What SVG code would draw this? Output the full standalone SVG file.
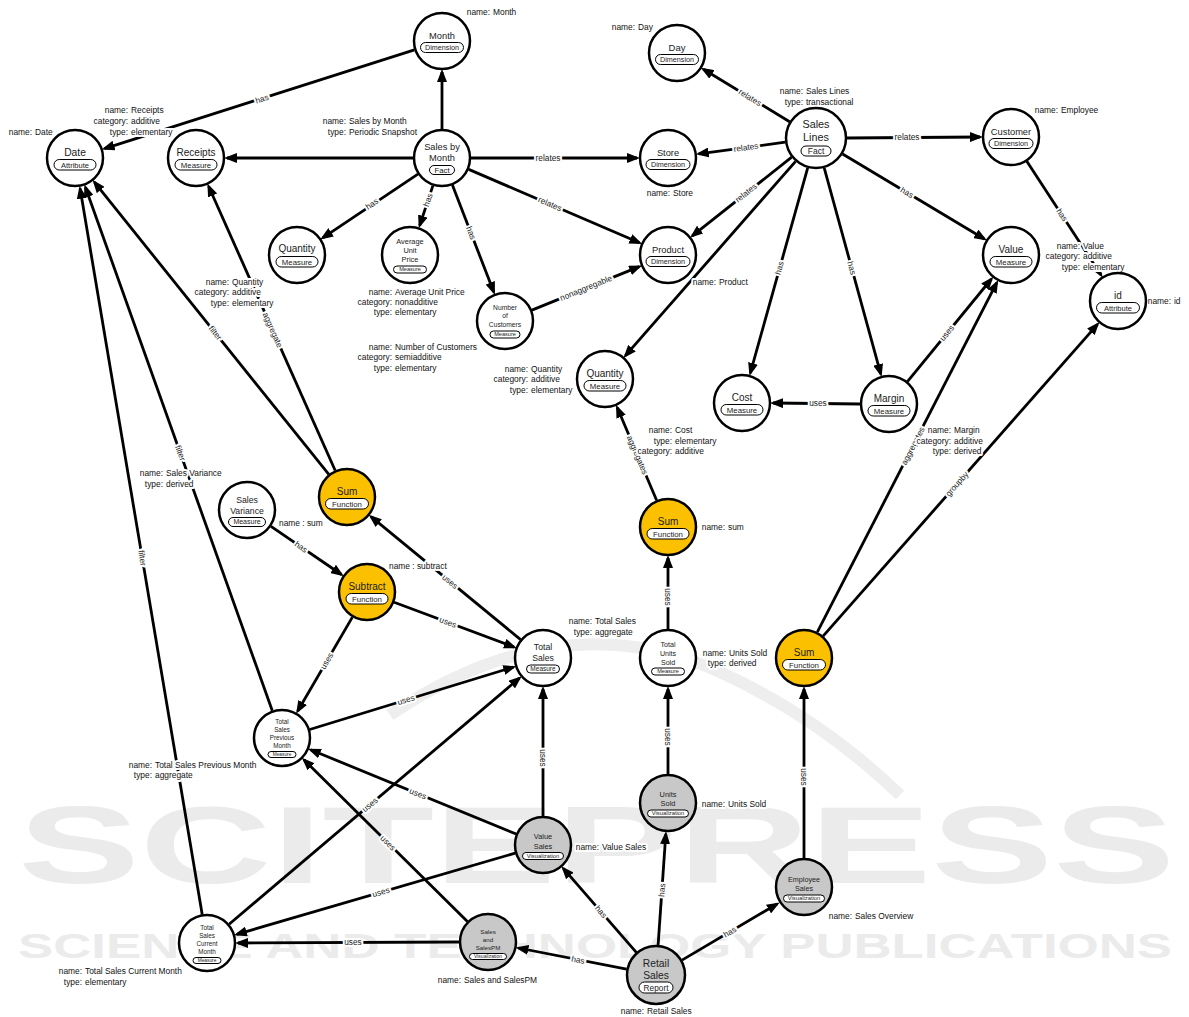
<svg xmlns="http://www.w3.org/2000/svg" width="1189" height="1017" viewBox="0 0 1189 1017">
<defs>
<style>
.c{stroke:#000;stroke-width:2.5;fill:#fff}
.fn{fill:#fbc100}
.vz{fill:#c8c8c8}
.t{font-family:"Liberation Sans",Arial,sans-serif;text-anchor:middle;fill:#222}
.pill{fill:#fff;stroke:#000;stroke-width:1}
.e{stroke:#000;stroke-width:2.8;fill:none}
.ea{marker-end:url(#ah)}
.el{font-family:"Liberation Sans",Arial,sans-serif;font-size:8.3px;text-anchor:middle;fill:#222;paint-order:stroke;stroke:#fff;stroke-width:4px;stroke-linejoin:round}
.pk,.pv{font-family:"Liberation Sans",Arial,sans-serif;font-size:8.4px;fill:#111;paint-order:stroke;stroke:#fff;stroke-width:4px;stroke-linejoin:round}
.pk{text-anchor:end}
.pv{text-anchor:start}
.wm{font-family:"Liberation Sans",Arial,sans-serif;font-weight:bold;fill:#ebebeb}
</style>
<marker id="ah" viewBox="0 0 13 10" refX="10" refY="5" markerWidth="13" markerHeight="10" markerUnits="userSpaceOnUse" orient="auto"><path d="M0,0 L13,5 L0,10 z" fill="#000"/></marker>
</defs>
<rect width="1189" height="1017" fill="#fff"/>
<g id="watermark">
<path d="M390,715 Q560,600 720,672 Q820,718 900,795" fill="none" stroke="#eeeeee" stroke-width="12"/>
<text class="wm" x="18" y="883" font-size="109" textLength="1157" lengthAdjust="spacingAndGlyphs">SCITEPRESS</text>
<text class="wm" x="18" y="958" font-size="35" textLength="1154" lengthAdjust="spacingAndGlyphs">SCIENCE AND TECHNOLOGY PUBLICATIONS</text>
</g>
<g id="connectors">
<path class="e ea" d="M414.4,49.8 L104.5,148.6"/>
<path class="e ea" d="M442,129 L442,72"/>
<path class="e ea" d="M413,158 L227,158"/>
<path class="e ea" d="M471,158 L637,158"/>
<path class="e ea" d="M468.7,169.4 L639.5,242.8"/>
<path class="e ea" d="M417.9,174.1 L322.8,237.8"/>
<path class="e ea" d="M432.9,185.6 L419.7,225.5"/>
<path class="e ea" d="M452.4,185.1 L493.8,292.1"/>
<path class="e ea" d="M531.9,310.1 L639.3,266.6"/>
<path class="e ea" d="M789.6,121.8 L703.4,69.2"/>
<path class="e ea" d="M785.3,142.2 L698.7,153.8"/>
<path class="e ea" d="M791.7,157.2 L692.3,235.8"/>
<path class="e ea" d="M847,138 L980,137"/>
<path class="e ea" d="M842.6,154 L984.4,239"/>
<path class="e ea" d="M795.6,161.3 L625.4,355.7"/>
<path class="e ea" d="M807.7,167.9 L750.3,373.1"/>
<path class="e ea" d="M824.2,167.9 L880.8,374.1"/>
<path class="e ea" d="M1026.8,161.3 L1101,275"/>
<path class="e ea" d="M860,404 L773,403"/>
<path class="e ea" d="M907.4,381.6 L991.4,279"/>
<path class="e ea" d="M817.3,632.2 L996.8,282.6"/>
<path class="e ea" d="M823.1,636.2 L1097.5,324.3"/>
<path class="e ea" d="M656.6,500.3 L617.2,407.5"/>
<path class="e ea" d="M668,629 L668,558"/>
<path class="e ea" d="M335.2,470.5 L208.6,186.3"/>
<path class="e ea" d="M328.8,474.4 L94.4,182.2"/>
<path class="e ea" d="M520.6,639.6 L371,516.7"/>
<path class="e ea" d="M394.1,602.2 L514,647.1"/>
<path class="e ea" d="M271,526.4 L341.4,574.5"/>
<path class="e ea" d="M352.4,617.1 L297.6,711.2"/>
<path class="e ea" d="M272.3,710.7 L85.4,187.2"/>
<path class="e ea" d="M202.2,914.4 L80.1,188.6"/>
<path class="e ea" d="M309.7,729.5 L513.4,667.1"/>
<path class="e ea" d="M543,816 L543,689"/>
<path class="e ea" d="M516.2,834 L310.7,749.8"/>
<path class="e ea" d="M515.2,853.1 L236.8,934.3"/>
<path class="e ea" d="M229.1,924.2 L519.4,678.1"/>
<path class="e ea" d="M467.4,921.6 L304,759.8"/>
<path class="e ea" d="M459,942 L238,943"/>
<path class="e ea" d="M668,774 L668,689"/>
<path class="e ea" d="M804,858 L804,689"/>
<path class="e ea" d="M626.6,969.2 L518.4,948"/>
<path class="e ea" d="M636.3,952.4 L563.3,868.4"/>
<path class="e ea" d="M658.1,945.1 L665.8,834.1"/>
<path class="e ea" d="M682,960.1 L777.1,904"/>
<g id="edge-labels">
<text class="el" x="262" y="99" dy="0.33em" transform="rotate(-17.7 262 99)">has</text>
<text class="el" x="548" y="158" dy="0.33em">relates</text>
<text class="el" x="550" y="204" dy="0.33em" transform="rotate(23.2 550 204)">relates</text>
<text class="el" x="372" y="204" dy="0.33em" transform="rotate(-33.8 372 204)">has</text>
<text class="el" x="428" y="200" dy="0.33em" transform="rotate(-71.7 428 200)">has</text>
<text class="el" x="471" y="233" dy="0.33em" transform="rotate(68.9 471 233)">has</text>
<text class="el" x="586" y="288" dy="0.33em" transform="rotate(-22 586 288)">nonaggregable</text>
<text class="el" x="750" y="97.5" dy="0.33em" transform="rotate(31.4 750 97.5)">relates</text>
<text class="el" x="746" y="147.5" dy="0.33em" transform="rotate(-7.7 746 147.5)">relates</text>
<text class="el" x="746" y="193" dy="0.33em" transform="rotate(-38.3 746 193)">relates</text>
<text class="el" x="907" y="137.5" dy="0.33em">relates</text>
<text class="el" x="907" y="192.6" dy="0.33em" transform="rotate(31 907 192.6)">has</text>
<text class="el" x="779.5" y="268" dy="0.33em" transform="rotate(-74.4 779.5 268)">has</text>
<text class="el" x="851.7" y="268" dy="0.33em" transform="rotate(74.7 851.7 268)">has</text>
<text class="el" x="1062" y="215" dy="0.33em" transform="rotate(56.9 1062 215)">has</text>
<text class="el" x="818" y="403.5" dy="0.33em">uses</text>
<text class="el" x="947" y="333" dy="0.33em" transform="rotate(-50.7 947 333)">uses</text>
<text class="el" x="913" y="446" dy="0.33em" transform="rotate(-62.8 913 446)">aggregates</text>
<text class="el" x="957" y="484" dy="0.33em" transform="rotate(-48.7 957 484)">groupby</text>
<text class="el" x="637.4" y="455" dy="0.33em" transform="rotate(67 637.4 455)">aggregates</text>
<text class="el" x="668" y="597" dy="0.33em" transform="rotate(90 668 597)">uses</text>
<text class="el" x="272.6" y="330" dy="0.33em" transform="rotate(66 272.6 330)">aggregate</text>
<text class="el" x="215.3" y="333" dy="0.33em" transform="rotate(51.3 215.3 333)">filter</text>
<text class="el" x="450" y="581.6" dy="0.33em" transform="rotate(39.4 450 581.6)">uses</text>
<text class="el" x="448" y="622.4" dy="0.33em" transform="rotate(20.6 448 622.4)">uses</text>
<text class="el" x="301" y="547" dy="0.33em" transform="rotate(34.3 301 547)">has</text>
<text class="el" x="326.8" y="661" dy="0.33em" transform="rotate(-59.8 326.8 661)">uses</text>
<text class="el" x="180.3" y="453" dy="0.33em" transform="rotate(70.4 180.3 453)">filter</text>
<text class="el" x="142.2" y="558" dy="0.33em" transform="rotate(80.5 142.2 558)">filter</text>
<text class="el" x="406" y="700" dy="0.33em" transform="rotate(-17 406 700)">uses</text>
<text class="el" x="543" y="758" dy="0.33em" transform="rotate(90 543 758)">uses</text>
<text class="el" x="418" y="793.8" dy="0.33em" transform="rotate(22.3 418 793.8)">uses</text>
<text class="el" x="381" y="892.2" dy="0.33em" transform="rotate(-16.3 381 892.2)">uses</text>
<text class="el" x="370" y="804.8" dy="0.33em" transform="rotate(-40.3 370 804.8)">uses</text>
<text class="el" x="388" y="843" dy="0.33em" transform="rotate(44.7 388 843)">uses</text>
<text class="el" x="353" y="942.5" dy="0.33em">uses</text>
<text class="el" x="668" y="737" dy="0.33em" transform="rotate(90 668 737)">uses</text>
<text class="el" x="804" y="777" dy="0.33em" transform="rotate(90 804 777)">uses</text>
<text class="el" x="578" y="960" dy="0.33em" transform="rotate(11.1 578 960)">has</text>
<text class="el" x="601" y="911.8" dy="0.33em" transform="rotate(49 601 911.8)">has</text>
<text class="el" x="662" y="890" dy="0.33em" transform="rotate(-86 662 890)">has</text>
<text class="el" x="730" y="932" dy="0.33em" transform="rotate(-30.5 730 932)">has</text>
</g>
</g>
<g id="properties">
<text class="pk" x="32" y="135">name:</text><text class="pv" x="35" y="135">Date</text>
<text class="pk" x="128" y="113">name:</text><text class="pv" x="131" y="113">Receipts</text>
<text class="pk" x="128" y="124">category:</text><text class="pv" x="131" y="124">additive</text>
<text class="pk" x="128" y="135">type:</text><text class="pv" x="131" y="135">elementary</text>
<text class="pk" x="346" y="124">name:</text><text class="pv" x="349" y="124">Sales by Month</text>
<text class="pk" x="346" y="135">type:</text><text class="pv" x="349" y="135">Periodic Snapshot</text>
<text class="pk" x="490" y="15">name:</text><text class="pv" x="493" y="15">Month</text>
<text class="pk" x="635" y="30">name:</text><text class="pv" x="638" y="30">Day</text>
<text class="pk" x="670" y="196">name:</text><text class="pv" x="673" y="196">Store</text>
<text class="pk" x="716" y="285">name:</text><text class="pv" x="719" y="285">Product</text>
<text class="pk" x="392" y="295">name:</text><text class="pv" x="395" y="295">Average Unit Price</text>
<text class="pk" x="392" y="305">category:</text><text class="pv" x="395" y="305">nonadditive</text>
<text class="pk" x="392" y="315">type:</text><text class="pv" x="395" y="315">elementary</text>
<text class="pk" x="392" y="350">name:</text><text class="pv" x="395" y="350">Number of Customers</text>
<text class="pk" x="392" y="360">category:</text><text class="pv" x="395" y="360">semiadditive</text>
<text class="pk" x="392" y="371">type:</text><text class="pv" x="395" y="371">elementary</text>
<text class="pk" x="803" y="94">name:</text><text class="pv" x="806" y="94">Sales Lines</text>
<text class="pk" x="803" y="105">type:</text><text class="pv" x="806" y="105">transactional</text>
<text class="pk" x="1058" y="113">name:</text><text class="pv" x="1061" y="113">Employee</text>
<text class="pk" x="1080" y="249">name:</text><text class="pv" x="1083" y="249">Value</text>
<text class="pk" x="1080" y="259">category:</text><text class="pv" x="1083" y="259">additive</text>
<text class="pk" x="1080" y="270">type:</text><text class="pv" x="1083" y="270">elementary</text>
<text class="pk" x="1171" y="304">name:</text><text class="pv" x="1174" y="304">id</text>
<text class="pk" x="229" y="285">name:</text><text class="pv" x="232" y="285">Quantity</text>
<text class="pk" x="229" y="295">category:</text><text class="pv" x="232" y="295">additive</text>
<text class="pk" x="229" y="306">type:</text><text class="pv" x="232" y="306">elementary</text>
<text class="pk" x="528" y="372">name:</text><text class="pv" x="531" y="372">Quantity</text>
<text class="pk" x="528" y="382">category:</text><text class="pv" x="531" y="382">additive</text>
<text class="pk" x="528" y="393">type:</text><text class="pv" x="531" y="393">elementary</text>
<text class="pk" x="672" y="433">name:</text><text class="pv" x="675" y="433">Cost</text>
<text class="pk" x="672" y="444">type:</text><text class="pv" x="675" y="444">elementary</text>
<text class="pk" x="672" y="454">category:</text><text class="pv" x="675" y="454">additive</text>
<text class="pk" x="951" y="433">name:</text><text class="pv" x="954" y="433">Margin</text>
<text class="pk" x="951" y="444">category:</text><text class="pv" x="954" y="444">additive</text>
<text class="pk" x="951" y="454">type:</text><text class="pv" x="954" y="454">derived</text>
<text class="pk" x="725" y="530">name:</text><text class="pv" x="728" y="530">sum</text>
<text class="pv" x="279" y="526">name : sum</text>
<text class="pv" x="389" y="569">name : subtract</text>
<text class="pk" x="163" y="476">name:</text><text class="pv" x="166" y="476">Sales Variance</text>
<text class="pk" x="163" y="487">type:</text><text class="pv" x="166" y="487">derived</text>
<text class="pk" x="592" y="624">name:</text><text class="pv" x="595" y="624">Total Sales</text>
<text class="pk" x="592" y="635">type:</text><text class="pv" x="595" y="635">aggregate</text>
<text class="pk" x="726" y="656">name:</text><text class="pv" x="729" y="656">Units Sold</text>
<text class="pk" x="726" y="666">type:</text><text class="pv" x="729" y="666">derived</text>
<text class="pk" x="152" y="768">name:</text><text class="pv" x="155" y="768">Total Sales Previous Month</text>
<text class="pk" x="152" y="778">type:</text><text class="pv" x="155" y="778">aggregate</text>
<text class="pk" x="82" y="974">name:</text><text class="pv" x="85" y="974">Total Sales Current Month</text>
<text class="pk" x="82" y="985">type:</text><text class="pv" x="85" y="985">elementary</text>
<text class="pk" x="725" y="807">name:</text><text class="pv" x="728" y="807">Units Sold</text>
<text class="pk" x="599" y="850">name:</text><text class="pv" x="602" y="850">Value Sales</text>
<text class="pk" x="461" y="983">name:</text><text class="pv" x="464" y="983">Sales and SalesPM</text>
<text class="pk" x="644" y="1014">name:</text><text class="pv" x="647" y="1014">Retail Sales</text>
<text class="pk" x="852" y="919">name:</text><text class="pv" x="855" y="919">Sales Overview</text>
</g>
<g id="nodes">
<g id="n-date" transform="translate(75,158)"><circle class="c" r="28"/><text class="t" y="-2" font-size="10.3">Date</text><rect class="pill" x="-21" y="1.5" width="42" height="10.5" rx="5.25"/><text class="t" y="9.6" font-size="7.5">Attribute</text></g>
<g id="n-receipts" transform="translate(196,158)"><circle class="c" r="28"/><text class="t" y="-2" font-size="10">Receipts</text><rect class="pill" x="-21" y="1.5" width="42" height="10.5" rx="5.25"/><text class="t" y="9.6" font-size="7.8">Measure</text></g>
<g id="n-month" transform="translate(442,41)"><circle class="c" r="28"/><text class="t" y="-2" font-size="9.3">Month</text><rect class="pill" x="-21.5" y="1.5" width="43" height="10" rx="5"/><text class="t" y="9.3" font-size="7.2">Dimension</text></g>
<g id="n-day" transform="translate(677,53)"><circle class="c" r="28"/><text class="t" y="-2" font-size="9.5">Day</text><rect class="pill" x="-21.5" y="1.5" width="43" height="10" rx="5"/><text class="t" y="9.3" font-size="7.2">Dimension</text></g>
<g id="n-store" transform="translate(668,158)"><circle class="c" r="28"/><text class="t" y="-2" font-size="9.3">Store</text><rect class="pill" x="-22" y="1.5" width="44" height="10" rx="5"/><text class="t" y="9.3" font-size="7.2">Dimension</text></g>
<g id="n-customer" transform="translate(1011,137)"><circle class="c" r="28"/><text class="t" y="-2" font-size="9.3">Customer</text><rect class="pill" x="-22" y="1.5" width="44" height="10" rx="5"/><text class="t" y="9.3" font-size="7.2">Dimension</text></g>
<g id="n-product" transform="translate(668,255)"><circle class="c" r="28"/><text class="t" y="-2" font-size="9.3">Product</text><rect class="pill" x="-22" y="1.5" width="44" height="10" rx="5"/><text class="t" y="9.3" font-size="7.2">Dimension</text></g>
<g id="n-sales-by-month" transform="translate(442,158)"><circle class="c" r="28"/><text class="t" y="-8" font-size="9.3">Sales by</text><text class="t" y="3" font-size="9.3">Month</text><rect class="pill" x="-12.5" y="7.5" width="25" height="9" rx="4.5"/><text class="t" y="14.7" font-size="7.8">Fact</text></g>
<g id="n-sales-lines" transform="translate(816,138)"><circle class="c" r="30"/><text class="t" y="-10" font-size="10.8">Sales</text><text class="t" y="3" font-size="10.8">Lines</text><rect class="pill" x="-15" y="8" width="30" height="10" rx="5"/><text class="t" y="16.2" font-size="8.5">Fact</text></g>
<g id="n-quantity-1" transform="translate(297,255)"><circle class="c" r="28"/><text class="t" y="-3" font-size="10">Quantity</text><rect class="pill" x="-21" y="1.5" width="42" height="10.5" rx="5.25"/><text class="t" y="9.6" font-size="7.8">Measure</text></g>
<g id="n-avg-unit-price" transform="translate(410,255)"><circle class="c" r="28"/><text class="t" y="-11" font-size="7.4">Average</text><text class="t" y="-2" font-size="7.4">Unit</text><text class="t" y="7" font-size="7.4">Price</text><rect class="pill" x="-16.5" y="11" width="33" height="7" rx="3.5"/><text class="t" y="16.4" font-size="5.6">Measure</text></g>
<g id="n-num-customers" transform="translate(505,321)"><circle class="c" r="28"/><text class="t" y="-11.5" font-size="6.7">Number</text><text class="t" y="-3" font-size="6.7">of</text><text class="t" y="5.5" font-size="6.7">Customers</text><rect class="pill" x="-15" y="10" width="30" height="7" rx="3.5"/><text class="t" y="15.4" font-size="5.6">Measure</text></g>
<g id="n-value" transform="translate(1011,255)"><circle class="c" r="28"/><text class="t" y="-2" font-size="10">Value</text><rect class="pill" x="-21" y="1.5" width="42" height="10.5" rx="5.25"/><text class="t" y="9.6" font-size="7.8">Measure</text></g>
<g id="n-id" transform="translate(1118,301)"><circle class="c" r="28"/><text class="t" y="-2" font-size="10">id</text><rect class="pill" x="-21.5" y="1.5" width="43" height="10.5" rx="5.25"/><text class="t" y="9.6" font-size="7.5">Attribute</text></g>
<g id="n-quantity-2" transform="translate(605,379)"><circle class="c" r="28"/><text class="t" y="-2" font-size="10">Quantity</text><rect class="pill" x="-21" y="1.5" width="42" height="10.5" rx="5.25"/><text class="t" y="9.6" font-size="7.8">Measure</text></g>
<g id="n-cost" transform="translate(742,403)"><circle class="c" r="28"/><text class="t" y="-2" font-size="10">Cost</text><rect class="pill" x="-21" y="1.5" width="42" height="10.5" rx="5.25"/><text class="t" y="9.6" font-size="7.8">Measure</text></g>
<g id="n-margin" transform="translate(889,404)"><circle class="c" r="28"/><text class="t" y="-2" font-size="10">Margin</text><rect class="pill" x="-21" y="1.5" width="42" height="10.5" rx="5.25"/><text class="t" y="9.6" font-size="7.8">Measure</text></g>
<g id="n-sum-1" transform="translate(347,497)"><circle class="c fn" r="28"/><text class="t" y="-2" font-size="10">Sum</text><rect class="pill" x="-21.5" y="1.5" width="43" height="10.5" rx="5.25"/><text class="t" y="9.6" font-size="7.8">Function</text></g>
<g id="n-sales-variance" transform="translate(247,510)"><circle class="c" r="28"/><text class="t" y="-7" font-size="8.7">Sales</text><text class="t" y="4" font-size="8.7">Variance</text><rect class="pill" x="-18.5" y="7.5" width="37" height="9" rx="4.5"/><text class="t" y="14.4" font-size="7">Measure</text></g>
<g id="n-subtract" transform="translate(367,592)"><circle class="c fn" r="28"/><text class="t" y="-2" font-size="10">Subtract</text><rect class="pill" x="-21" y="1.5" width="42" height="10.5" rx="5.25"/><text class="t" y="9.6" font-size="7.8">Function</text></g>
<g id="n-sum-2" transform="translate(668,527)"><circle class="c fn" r="28"/><text class="t" y="-2" font-size="10">Sum</text><rect class="pill" x="-21" y="1.5" width="42" height="10.5" rx="5.25"/><text class="t" y="9.6" font-size="7.8">Function</text></g>
<g id="n-total-sales" transform="translate(543,658)"><circle class="c" r="28"/><text class="t" y="-8" font-size="8.7">Total</text><text class="t" y="3" font-size="8.7">Sales</text><rect class="pill" x="-16.5" y="7" width="33" height="8" rx="4"/><text class="t" y="13.3" font-size="6.5">Measure</text></g>
<g id="n-total-units-sold" transform="translate(668,658)"><circle class="c" r="28"/><text class="t" y="-11" font-size="7.1">Total</text><text class="t" y="-2.5" font-size="7.1">Units</text><text class="t" y="6.5" font-size="7.1">Sold</text><rect class="pill" x="-16.5" y="10" width="33" height="7" rx="3.5"/><text class="t" y="15.4" font-size="5.6">Measure</text></g>
<g id="n-sum-3" transform="translate(804,658)"><circle class="c fn" r="28"/><text class="t" y="-2" font-size="10">Sum</text><rect class="pill" x="-21.5" y="1.5" width="43" height="10.5" rx="5.25"/><text class="t" y="9.6" font-size="7.8">Function</text></g>
<g id="n-tspm" transform="translate(282,738)"><circle class="c" r="28"/><text class="t" y="-14" font-size="6.3">Total</text><text class="t" y="-6" font-size="6.3">Sales</text><text class="t" y="2" font-size="6.3">Previous</text><text class="t" y="10" font-size="6.3">Month</text><rect class="pill" x="-14" y="13.5" width="28" height="6" rx="3"/><text class="t" y="18.2" font-size="4.8">Measure</text></g>
<g id="n-tscm" transform="translate(207,943)"><circle class="c" r="28"/><text class="t" y="-13" font-size="6.3">Total</text><text class="t" y="-5" font-size="6.3">Sales</text><text class="t" y="3" font-size="6.3">Current</text><text class="t" y="11" font-size="6.3">Month</text><rect class="pill" x="-14" y="14.5" width="28" height="6" rx="3"/><text class="t" y="19.2" font-size="4.8">Measure</text></g>
<g id="n-units-sold" transform="translate(668,803)"><circle class="c vz" r="28"/><text class="t" y="-6" font-size="7.4">Units</text><text class="t" y="3" font-size="7.4">Sold</text><rect class="pill" x="-20.5" y="7" width="41" height="7" rx="3.5"/><text class="t" y="12.4" font-size="5.8">Visualization</text></g>
<g id="n-value-sales" transform="translate(543,845)"><circle class="c vz" r="28"/><text class="t" y="-6" font-size="7.4">Value</text><text class="t" y="3.5" font-size="7.4">Sales</text><rect class="pill" x="-20.5" y="7.5" width="41" height="7" rx="3.5"/><text class="t" y="12.9" font-size="5.8">Visualization</text></g>
<g id="n-employee-sales" transform="translate(804,887)"><circle class="c vz" r="28"/><text class="t" y="-5" font-size="7.2">Employee</text><text class="t" y="4" font-size="7.2">Sales</text><rect class="pill" x="-20.5" y="8" width="41" height="7" rx="3.5"/><text class="t" y="13.4" font-size="5.8">Visualization</text></g>
<g id="n-sales-salespm" transform="translate(488,942)"><circle class="c vz" r="28"/><text class="t" y="-8" font-size="6.2">Sales</text><text class="t" y="0" font-size="6.2">and</text><text class="t" y="8" font-size="6.2">SalesPM</text><rect class="pill" x="-18.5" y="11.5" width="37" height="6" rx="3"/><text class="t" y="16.2" font-size="5">Visualization</text></g>
<g id="n-retail-sales" transform="translate(656,975)"><circle class="c vz" r="29"/><text class="t" y="-8" font-size="10.3">Retail</text><text class="t" y="4" font-size="10.3">Sales</text><rect class="pill" x="-17" y="7" width="34" height="11" rx="5.5"/><text class="t" y="15.5" font-size="8.3">Report</text></g>
</g>
</svg>
